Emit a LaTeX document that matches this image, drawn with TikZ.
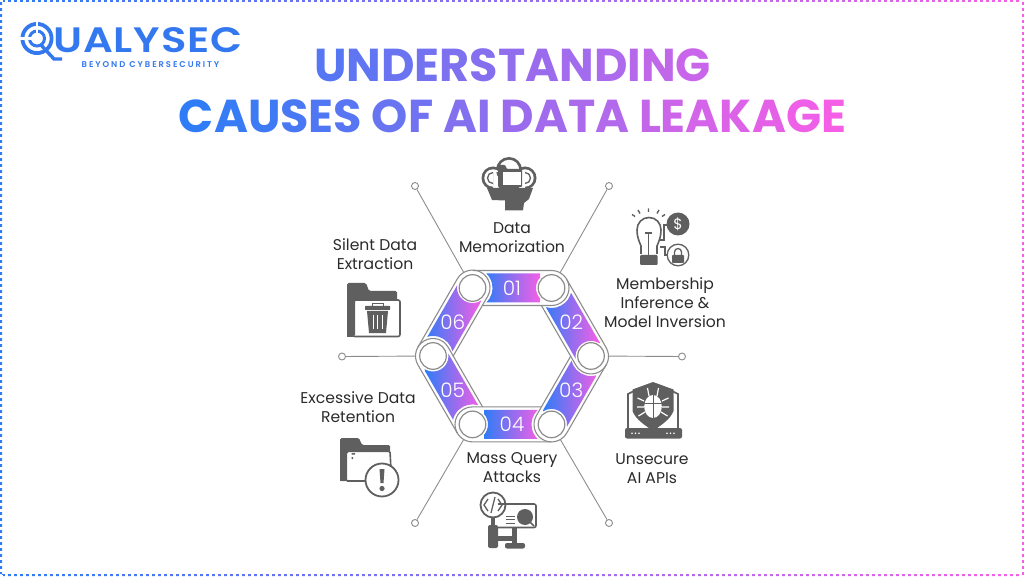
\documentclass[tikz,border=0pt]{standalone}
\usepackage{fontspec}
\setmainfont{Poppins}
\newfontfamily\lightfont{Poppins Light}
\newfontfamily\logofont{Poppins SemiBold}
\usetikzlibrary{calc}
\definecolor{gradblue}{HTML}{2F7CF6}
\definecolor{gradpink}{HTML}{F55FE6}
\definecolor{logoblue}{HTML}{3478F0}
\definecolor{linegray}{HTML}{8C8C8C}
\definecolor{icongray}{HTML}{5F5F5F}
\definecolor{labelink}{HTML}{2B2B2B}
\tikzset{
  hub/.style={circle,draw=linegray,line width=1.2pt,fill=white,minimum size=26.6pt,inner sep=0pt,outer sep=4.2pt},
  tip/.style={circle,draw=linegray,line width=.9pt,fill=white,minimum size=7pt,inner sep=0pt},
  leader/.style={draw=linegray,line width=.9pt},
  numlab/.style={text=white,font=\lightfont\fontsize{20}{22}\selectfont},
  causelab/.style={align=center,text=labelink,font=\fontsize{15.6}{19}\selectfont},
  titleline/.style={font=\bfseries\fontsize{46.1}{50}\selectfont,inner sep=0pt},
  iconline/.style={draw=icongray,line width=1.6pt},
}
% letters of a title line, coloured from one percentage to the other
\newcommand{\gradletters}[3]{%
  \foreach \ch [count=\k] in {#3}{%
    \pgfmathsetmacro{\pct}{#1+(#2-#1)*(\k-1)/\total}%
    \textcolor{gradpink!\pct!gradblue}{\ch}}}
\begin{document}
\begin{tikzpicture}[x=1pt,y=-1pt,yshift=576pt]
  \useasboundingbox (0,0) rectangle (1024,576);
  % frame
  \shade[left color=gradblue,right color=gradpink,even odd rule]
    (0,0) rectangle (1024,576) (2,2) rectangle (1022,574);
  \draw[white,line width=3pt,dash pattern=on 2.6pt off 3.4pt] (-1,1) -- (1025,1);
  \draw[white,line width=3pt,dash pattern=on 2.6pt off 3.4pt] (-1,575) -- (1025,575);
  \draw[white,line width=3pt,dash pattern=on 2.6pt off 3.4pt] (1,-1) -- (1,577);
  \draw[white,line width=3pt,dash pattern=on 2.6pt off 3.4pt] (1023,-1) -- (1023,577);
  % logo
  \draw[logoblue,line width=3.8pt] (37,38.5) circle (14.6);
  \draw[logoblue,line width=3pt] (37,38.5) circle (7.5);
  \draw[white,line width=2.5pt] (37,20) -- (37,34);
  \draw[white,line width=2.5pt] (20,38.5) -- (33,38.5);
  \draw[logoblue,line width=3.4pt] (41,45) -- (54,59) -- (62,59);
  \node[anchor=west,inner sep=0pt,text=logoblue] (logoname) at (53,40.5) {\resizebox{189pt}{25pt}{\logofont\addfontfeature{LetterSpace=2}UALYSEC}};
  \node[inner sep=0pt,text=logoblue,font=\logofont\fontsize{8.4}{10}\selectfont] (logotag) at (150.5,64.5) {\addfontfeature{LetterSpace=23}BEYOND CYBERSECURITY};
  % title
  \def\total{12}
  \node[titleline] (title1) at (512.5,65) {\gradletters{20}{78}{U,N,D,E,R,S,T,A,N,D,I,N,G}};
  \def\total{24}
  \node[titleline] (title2) at (512.5,116) {\gradletters{0}{100}{C,A,U,S,E,S,~,O,F,~,A,I,~,D,A,T,A,~,L,E,A,K,A,G,E}};
  % hexagon hubs
  \foreach \n/\hx/\hy in {1/551.5/288,2/591/356,3/551.5/424.4,4/472.5/424.4,5/433/356,6/472.5/288}
    \node[hub] (h\n) at (\hx,\hy) {};
  % leaders
  \node[tip] (t1) at (609,186) {};
  \node[tip] (t2) at (682,356.5) {};
  \node[tip] (t3) at (609,523) {};
  \node[tip] (t4) at (415,523) {};
  \node[tip] (t5) at (342,356.5) {};
  \node[tip] (t6) at (415,186) {};
  \foreach \n in {1,...,6}
    \draw[leader] (t\n) -- (h\n);
  % bands
  \foreach \n/\p/\d in {1/6/0,2/1/-60,3/2/-120,4/3/-180,5/4/-240,6/5/-300}{
    \coordinate (m\n) at ($(h\p.center)!.5!(h\n.center)$);
    \begin{scope}[y=1pt,shift={(h\p.center)},rotate=\d]
      \draw[linegray,line width=1.1pt] (10.1,-17.5) -- (79,-17.5) arc[start angle=-90,end angle=90,radius=17.5] -- (0,17.5);
    \end{scope}
    \begin{scope}
      \clip[y=1pt,shift={(h\p.center)},rotate=\d] (13.8,14.5) -- (73.5,14.5) arc[start angle=110.8,end angle=249.2,radius=15.5]
        -- (13.8,-14.5) arc[start angle=-46.5,end angle=46.5,radius=20] -- cycle;
      \shade[left color=gradblue,right color=gradpink] ($(m\n)+(-28,-40)$) rectangle ($(m\n)+(28,40)$);
    \end{scope}
    \node[numlab] (n\n) at (m\n) {0\n};
  }
  % labels
  \node[causelab] (l1) at (512,237.5) {Data\\Memorization};
  \node[causelab] (l2) at (665,303) {Membership\\Inference \&\\Model Inversion};
  \node[causelab] (l3) at (652,468.5) {Unsecure\\AI APIs};
  \node[causelab] (l4) at (512,467.5) {Mass Query\\Attacks};
  \node[causelab] (l5) at (358,407.5) {Excessive Data\\Retention};
  \node[causelab] (l6) at (375,254.5) {Silent Data\\Extraction};
  % icon: cloud and head
  \fill[icongray] (487,188) -- (492,200) -- (505,200.5) -- (505,210.5) -- (523,210.5) -- (524,203) -- (529,199) -- (533,188) -- cycle;
  \fill[icongray] (509,170) circle (13) (493,178) circle (11.5) (525,178) circle (11.5) (493,172) rectangle (525,189.5);
  \fill[white] (509,170) circle (10.2) (493,178) circle (8.7) (525,178) circle (8.7) (493,172) rectangle (525,186.8);
  \draw[icongray,line width=1.3pt] (493,172.5) arc[start angle=270,end angle=90,radius=5.5];
  \draw[icongray,line width=1.3pt] (525,172.5) arc[start angle=-90,end angle=90,radius=5.5];
  \fill[icongray,rounded corners=.8pt] (498,165) -- (505,165) -- (507,169) -- (522,169) -- (522,187) -- (498,187) -- cycle;
  \fill[white] (502.5,172.5) rectangle (520.5,185.5);
  % icon: bulb
  \draw[iconline] (641,254) -- (641,246) .. controls (639,241) and (637,237) .. (637,230) .. controls (637,223) and (642,217.5) .. (649,217.5)
    .. controls (656,217.5) and (661,223) .. (661,230) .. controls (661,237) and (659,241) .. (657,246) -- (657,254);
  \draw[iconline] (645,233) -- (652,233) (648.5,233) -- (648.5,255);
  \fill[icongray,rounded corners=1pt] (640,255) rectangle (657.5,265);
  \draw[icongray,line width=1.4pt] (648.5,208.5) -- (648.5,212) (638,210) -- (640,213.5) (659,210) -- (657,213.5) (632,214.5) -- (635,216.5) (665,214.5) -- (662,216.5);
  \draw[iconline,line width=1.1pt] (660,240) -- (664,240) -- (664,225) -- (668,225);
  \draw[iconline,line width=1.1pt] (660,247) -- (665,247) -- (665,255) -- (668,255);
  \fill[icongray] (678,224) circle (11.5);
  \node[inner sep=0pt,text=white,font=\fontsize{15}{15}\selectfont] (dollar) at (678,224) {\$};
  \draw[iconline,line width=1.3pt] (678,255) circle (10.8);
  \fill[icongray,rounded corners=.8pt] (672,255) rectangle (684,263);
  \draw[icongray,line width=1.3pt] (674.5,255) -- (674.5,252) arc[start angle=180,end angle=360,radius=3.5] -- (681.5,255);
  % icon: shield and bug
  \draw[iconline] (628,428) -- (628,394) -- (634,391) (678,428) -- (678,394) -- (672,391);
  \fill[icongray] (653,382) -- (673.5,389.5) -- (673.5,411) .. controls (670,420) and (661,425) .. (653,431) .. controls (645,425) and (636,420) .. (632.5,411) -- (632.5,389.5) -- cycle;
  \fill[icongray,rounded corners=2pt] (625,428) rectangle (682,438.5);
  \foreach \bx in {632,635.5,639,667,670.5,674}
    \fill[white] (\bx,433.3) circle (.9);
  \fill[white] (653,406.5) ellipse (8.8 and 11.5);
  \draw[icongray,line width=1pt] (653,395) -- (653,418) (644,403) -- (662,403);
  \draw[white,line width=1.2pt] (649,396) -- (647.5,388) (657,396) -- (658.5,388);
  \draw[white,line width=1.2pt] (644,401) -- (637.5,398) (662,401) -- (668.5,398) (644,407) -- (637,407) (662,407) -- (669,407) (645,412) -- (638.5,416) (661,412) -- (667.5,416);
  % icon: folder with bin
  \fill[icongray,rounded corners=1.5pt] (347,283) -- (366,283) -- (369,291) -- (397,291) -- (397,300) -- (355,300) -- (355,336) -- (347,337) -- cycle;
  \fill[icongray] (347,298) rectangle (354,337);
  \draw[iconline,rounded corners=2pt] (353,300) rectangle (400,336.5);
  \fill[icongray] (367,311) -- (388,311) -- (386,333) -- (369,333) -- cycle;
  \fill[icongray,rounded corners=.5pt] (365,306) rectangle (390,310);
  \draw[icongray,line width=1pt] (372,306) -- (372,303.5) -- (383,303.5) -- (383,306);
  \draw[white,line width=1pt] (373,315) -- (373,329) (377.5,315) -- (377.5,329) (382,315) -- (382,329);
  % icon: folder with warning
  \fill[icongray,rounded corners=1.5pt] (340,438) -- (359,438) -- (362,445) -- (390,445) -- (390,452) -- (347,452) -- (347,481) -- (340,481) -- cycle;
  \fill[icongray] (340,450) rectangle (346,481);
  \draw[iconline,rounded corners=1.5pt] (346,451) -- (390,451) -- (391,470) (346,451) -- (346,481) -- (368,481);
  \fill[icongray] (351.5,453) rectangle (355,454.5) (351.5,457) rectangle (353,459);
  \draw[draw=icongray,fill=white,line width=1.8pt] (382,480) circle (16.5);
  \fill[icongray] (379.5,469) -- (384.5,469) -- (383.5,483) -- (380.5,483) -- cycle;
  \fill[icongray] (382,488.5) circle (2.6);
  % icon: code monitor
  \draw[iconline,rounded corners=2pt] (498,504) -- (536,504) -- (536,527.5) -- (498,527.5);
  \draw[iconline,line width=1.8pt] (493,505) circle (12.5);
  \draw[icongray,line width=1.3pt] (488,499) -- (484,505) -- (488,511) (498,499) -- (502,505) -- (498,511) (495,497) -- (491,513);
  \fill[icongray] (491,518) rectangle (495,525);
  \fill[icongray,rounded corners=2pt] (488,525) rectangle (498,548);
  \fill[icongray] (498,536) rectangle (513,541);
  \fill[icongray] (512,528) rectangle (517,544);
  \fill[icongray,rounded corners=2pt] (505,543) rectangle (525,548.5);
  \fill[icongray] (525,517) circle (8);
  \draw[icongray,line width=1.6pt] (530,522) -- (534,526);
  \draw[icongray,line width=1pt] (505.5,516) -- (515,516) (505.5,519.5) -- (515,519.5) (505.5,523) -- (515,523);
\end{tikzpicture}
\end{document}
